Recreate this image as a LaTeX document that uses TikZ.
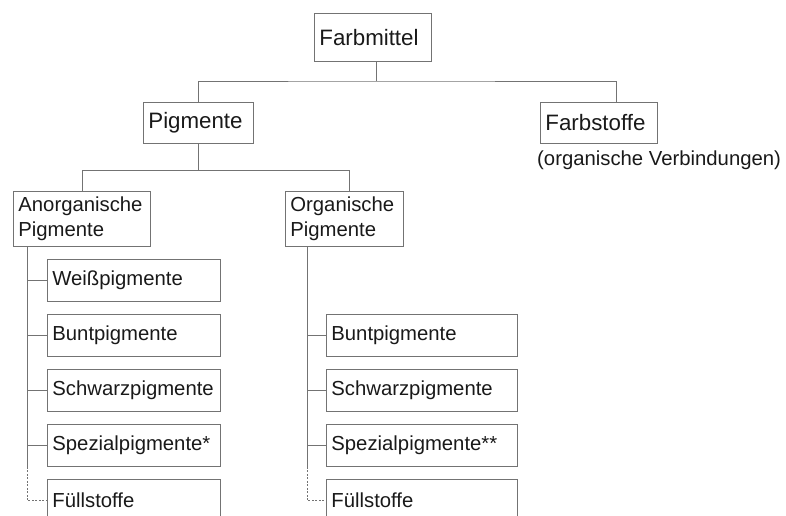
\documentclass[tikz,border=0pt]{standalone}
\usepackage{fontspec}
\setmainfont{Liberation Sans}
\usetikzlibrary{positioning,calc}

\begin{document}
\begin{tikzpicture}[
    x=1pt, y=-1pt,
    box/.style={draw=black!55, line width=0.8pt, inner xsep=5pt, inner ysep=0pt, align=left, anchor=north west, font=\fontsize{20.3}{25}\selectfont, text=black!90},
    topbox/.style={box, font=\fontsize{22.3}{26}\selectfont},
    subbox/.style={box, minimum height=42pt},
    line/.style={draw=black!55, line width=0.8pt},
    dline/.style={line, dash pattern=on 2pt off 1.5pt},
    note/.style={font=\fontsize{20.3}{25}\selectfont, text=black!90, inner sep=0pt}
]
\useasboundingbox (0,0) rectangle (786,515);
\clip (0,0) rectangle (786,515);

% Top levels
\node[topbox, text width=107pt, minimum height=48pt] (farbmittel) at (314,13) {Farbmittel};
\node[topbox, text width=100pt, minimum height=41pt] (pigmente) at (143,102) {Pigmente};
\node[topbox, text width=107pt, minimum height=41pt] (farbstoffe) at (540,102) {Farbstoffe};
\node[note, below=7pt of farbstoffe.south west, anchor=north west, xshift=-3pt] (farbnote) {(organische Verbindungen)};

% Pigment groups
\node[box, text width=127pt, minimum height=55pt] (anorg) at (13,191) {Anorganische\\Pigmente};
\node[box, text width=108pt, minimum height=55pt] (org) at (285,191) {Organische\\Pigmente};

% Anorganic pigments
\node[subbox, text width=163pt] (weiss) at (47,259) {Weißpigmente};
\node[subbox, text width=163pt] (bunta) at (47,314) {Buntpigmente};
\node[subbox, text width=163pt] (schwarza) at (47,369) {Schwarzpigmente};
\node[subbox, text width=163pt] (speza) at (47,424) {Spezialpigmente*};
\node[subbox, text width=163pt] (fuella) at (47,479) {Füllstoffe};

% Organic pigments
\node[subbox, text width=181pt] (bunto) at (326,314) {Buntpigmente};
\node[subbox, text width=181pt] (schwarzo) at (326,369) {Schwarzpigmente};
\node[subbox, text width=181pt] (spezo) at (326,424) {Spezialpigmente**};
\node[subbox, text width=181pt] (fuello) at (326,479) {Füllstoffe};

% Tree lines
\coordinate (j1) at (376,81);
\coordinate (j2) at ($(pigmente.south)+(0,27)$);
\coordinate (al) at ($(anorg.south west)+(14,0)$);
\coordinate (ol) at ($(org.south west)+(22,0)$);
\draw[line] (farbmittel.south -| j1) -- (j1);
\draw[line] (pigmente.north) |- (j1) -| ($(farbstoffe.north west)+(76,0)$);
\draw[line] (pigmente.south) -- (j2);
\draw[line] (anorg.north) |- (j2) -| ($(org.north west)+(64,0)$);

\draw[line] (al) |- (weiss.west);
\draw[line] (al) |- (bunta.west);
\draw[line] (al) |- (schwarza.west);
\draw[line] (al) |- (speza.west);
\draw[line] (al |- speza.west) -- (al |- speza.south);
\draw[dline] (al |- speza.south) |- (fuella.west);

\draw[line] (ol) |- (bunto.west);
\draw[line] (ol) |- (schwarzo.west);
\draw[line] (ol) |- (spezo.west);
\draw[line] (ol |- spezo.west) -- (ol |- spezo.south);
\draw[dline] (ol |- spezo.south) |- (fuello.west);

\end{tikzpicture}
\end{document}
